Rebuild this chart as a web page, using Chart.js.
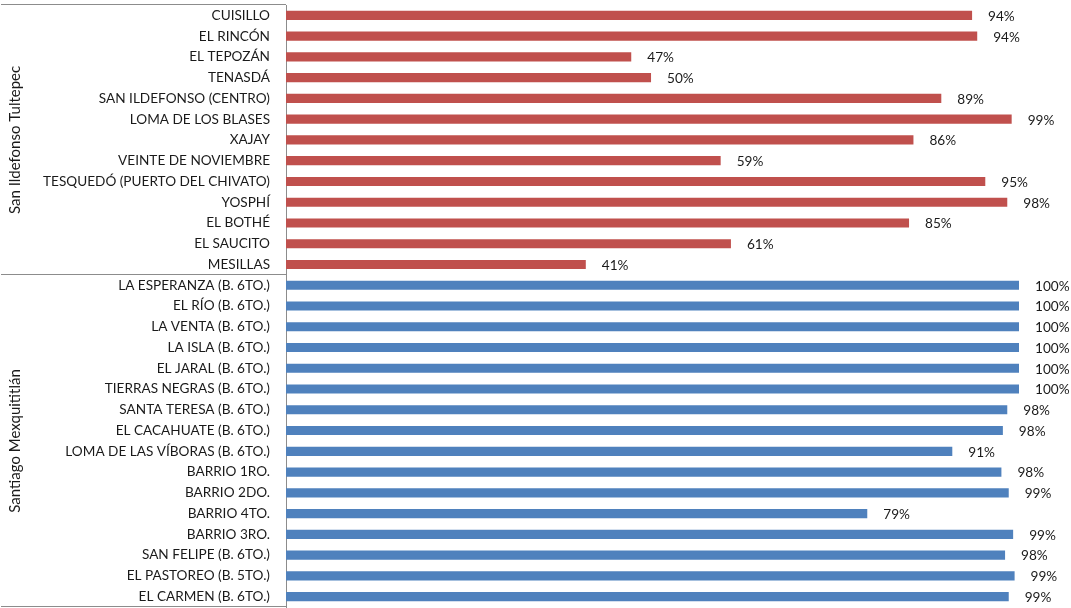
<!DOCTYPE html>
<html>
<head>
<meta charset="utf-8">
<script src="https://cdn.jsdelivr.net/npm/chart.js@4.4.1/dist/chart.umd.min.js"></script>
<style>
    html, body { margin: 0; padding: 0; background: #fff; }
    #wrap { width: 1071px; height: 608px; position: relative; }
</style>
</head>
<body>
<div id="wrap"><canvas id="chart"></canvas></div>
<script>
// Grupos y localidades
const groupNames = ["San Ildefonso Tultepec", "Santiago Mexquititlán"];

const sanIldefonsoLabels = [
    "CUISILLO", "EL RINCÓN", "EL TEPOZÁN", "TENASDÁ", "SAN ILDEFONSO (CENTRO)",
    "LOMA DE LOS BLASES", "XAJAY", "VEINTE DE NOVIEMBRE", "TESQUEDÓ (PUERTO DEL CHIVATO)",
    "YOSPHÍ", "EL BOTHÉ", "EL SAUCITO", "MESILLAS"
];
const sanIldefonsoValues = [93.6, 94.3, 47.1, 49.8, 89.4, 99.0, 85.6, 59.3, 95.4, 98.4, 85.0, 60.7, 40.9];

const santiagoLabels = [
    "LA ESPERANZA (B. 6TO.)", "EL RÍO (B. 6TO.)", "LA VENTA (B. 6TO.)", "LA ISLA (B. 6TO.)",
    "EL JARAL (B. 6TO.)", "TIERRAS NEGRAS (B. 6TO.)", "SANTA TERESA (B. 6TO.)",
    "EL CACAHUATE (B. 6TO.)", "LOMA DE LAS VÍBORAS (B. 6TO.)", "BARRIO 1RO.", "BARRIO 2DO.",
    "BARRIO 4TO.", "BARRIO 3RO.", "SAN FELIPE (B. 6TO.)", "EL PASTOREO (B. 5TO.)", "EL CARMEN (B. 6TO.)"
];
const santiagoValues = [100, 100, 100, 100, 100, 100, 98.4, 97.8, 90.9, 97.6, 98.6, 79.3, 99.2, 98.1, 99.4, 98.6];

const groupColors = ["#C0504D", "#4F81BD"];

const labels = sanIldefonsoLabels.concat(santiagoLabels);
const values = sanIldefonsoValues.concat(santiagoValues);
const colors = sanIldefonsoLabels.map(() => groupColors[0])
    .concat(santiagoLabels.map(() => groupColors[1]));
const groupSizes = [sanIldefonsoLabels.length, santiagoLabels.length];

const FONT = "Lato, 'Open Sans', sans-serif";

// etiquetas de valor y separadores de grupo
const extrasPlugin = {
    id: "extras",
    afterDatasetsDraw(chart) {
        const ctx = chart.ctx;
        const area = chart.chartArea;
        const meta = chart.getDatasetMeta(0);

        ctx.save();
        ctx.font = "13.6px " + FONT;
        ctx.fillStyle = "#1a1a1a";
        ctx.textAlign = "left";
        ctx.textBaseline = "middle";
        meta.data.forEach((bar, i) => {
            ctx.fillText(Math.round(values[i]) + "%", bar.x + 16, bar.y + 1);
        });

        // líneas de separación
        ctx.strokeStyle = "#8c8c8c";
        ctx.lineWidth = 1;
        const step = (area.bottom - area.top) / labels.length;
        let idx = 0;
        const bounds = [area.top];
        groupSizes.forEach(n => { idx += n; bounds.push(area.top + idx * step); });
        bounds.forEach(b => {
            const yy = Math.round(b) - 0.5;
            ctx.beginPath();
            ctx.moveTo(1, yy);
            ctx.lineTo(area.left, yy);
            ctx.stroke();
        });

        // nombres de grupo
        ctx.font = "15px " + FONT;
        ctx.textAlign = "center";
        ctx.textBaseline = "middle";
        for (let g = 0; g < groupNames.length; g++) {
            const mid = (bounds[g] + bounds[g + 1]) / 2;
            ctx.save();
            ctx.translate(15, mid);
            ctx.rotate(-Math.PI / 2);
            ctx.fillText(groupNames[g], 0, 0);
            ctx.restore();
        }
        ctx.restore();
    }
};

new Chart(document.getElementById("chart"), {
    type: "bar",
    data: {
        labels: labels,
        datasets: [{
            data: values,
            backgroundColor: colors,
            borderWidth: 0,
            barPercentage: 0.44,
            categoryPercentage: 1
        }]
    },
    options: {
        indexAxis: "y",
        responsive: true,
        maintainAspectRatio: false,
        animation: false,
        layout: { padding: { top: 5, bottom: 1, right: 52, left: 0 } },
        plugins: {
            legend: { display: false },
            tooltip: { enabled: false }
        },
        scales: {
            x: {
                display: false,
                min: 0,
                max: 100
            },
            y: {
                afterFit(scale) {
                    scale.width = 286;
                    scale.paddingTop = 0;
                    scale.paddingBottom = 0;
                },
                grid: { display: false, drawTicks: false },
                border: { display: true, color: "#8c8c8c", width: 1 },
                ticks: {
                    autoSkip: false,
                    padding: 16,
                    color: "#1a1a1a",
                    font: { family: FONT, size: 13.6 }
                }
            }
        }
    },
    plugins: [extrasPlugin]
});
</script>
</body>
</html>
